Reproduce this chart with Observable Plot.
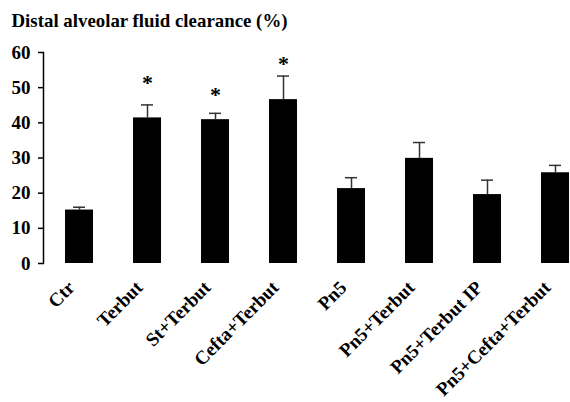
<!DOCTYPE html>
<html>
<head>
<meta charset="utf-8">
<script src="https://cdn.jsdelivr.net/npm/d3@7"></script>
<script src="https://cdn.jsdelivr.net/npm/@observablehq/plot@0.6"></script>
<style>
  html, body { margin: 0; padding: 0; background: #fff; overflow: hidden; }
  body { width: 570px; height: 402px; font-family: "Liberation Serif", "Times New Roman", serif; }
  #chart svg { display: block; overflow: hidden; }
</style>
</head>
<body>
<div id="chart"></div>
<script>
const titleText = "Distal alveolar fluid clearance (%)";
const categories = ["Ctr", "Terbut", "St+Terbut", "Cefta+Terbut", "Pn5", "Pn5+Terbut", "Pn5+Terbut IP", "Pn5+Cefta+Terbut"];
const means = [15.2, 41.4, 40.9, 46.6, 21.3, 29.9, 19.6, 25.8];
const errorTops = [16.0, 45.1, 42.7, 53.3, 24.4, 34.4, 23.7, 27.9];
const starCategories = ["Terbut", "St+Terbut", "Cefta+Terbut"];
const starValues = [51.7, 48.3, 57.1];
const yTicks = [0, 10, 20, 30, 40, 50, 60];

const data = categories.map((c, i) => ({cat: c, mean: means[i], err: errorTops[i]}));
const stars = starCategories.map((c, i) => ({cat: c, y: starValues[i]}));

const font = "Liberation Serif, Times New Roman, serif";

const chart = Plot.plot({
  width: 570,
  height: 402,
  marginLeft: 43,
  marginRight: 0,
  marginTop: 52,
  marginBottom: 139,
  style: {fontFamily: font, fontWeight: "bold", color: "#000", background: "#fff"},
  x: {domain: categories, range: [42.8, 590.8], paddingInner: 0.59, paddingOuter: 0.295, label: null},
  y: {domain: [0, 60], label: null},
  marks: [
    Plot.text([titleText], {text: d => d, frameAnchor: "top-left", textAnchor: "start", lineAnchor: "bottom",
      dx: -32, dy: -25.5, fontSize: 18.8, fontWeight: "bold", fill: "#000", className: "ttl"}),
    Plot.barY(data, {x: "cat", y: "mean", fill: "#000"}),
    Plot.ruleX(data, {x: "cat", y1: "mean", y2: "err", stroke: "#333", strokeWidth: 1.5}),
    Plot.tickY(data, {x: "cat", y: "err", stroke: "#333", strokeWidth: 1.5, insetLeft: 8, insetRight: 8}),
    Plot.text(stars, {x: "cat", y: "y", text: () => "*", fontSize: 22, fontWeight: "bold", dy: 1, fill: "#000"}),
    Plot.frame({anchor: "left", stroke: "#000", strokeWidth: 1.5}),
    Plot.axisY({ticks: yTicks, tickSize: 5, tickPadding: 8, fontSize: 19, fontWeight: "bold", stroke: "#000", strokeWidth: 1.5, label: null}),
    Plot.axisX({tickSize: 0, tickPadding: 0, tickRotate: -45, fontSize: 19, fontWeight: "bold", dy: 21, dx: -8, label: null})
  ]
});
document.getElementById("chart").appendChild(chart);
const tt = chart.querySelector(".ttl text") || [...chart.querySelectorAll("text")].find(t => t.textContent === titleText);
if (tt) {
  tt.setAttribute("textLength", "276");
  tt.setAttribute("lengthAdjust", "spacingAndGlyphs");
}
</script>
</body>
</html>
